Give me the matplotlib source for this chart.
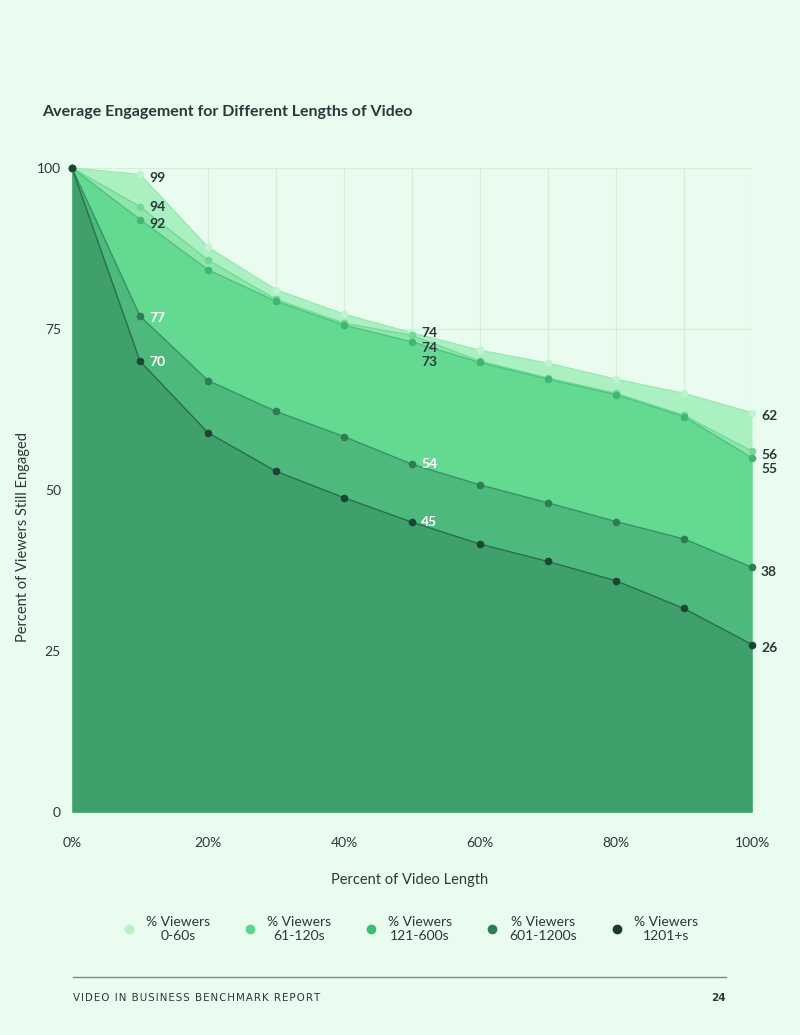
import matplotlib
matplotlib.use("Agg")
import matplotlib.pyplot as plt
from matplotlib.lines import Line2D

# ---------------- data ----------------
x_pct = [0, 10, 20, 30, 40, 50, 60, 70, 80, 90, 100]
series_names = ["% Viewers\n0-60s", "% Viewers\n61-120s", "% Viewers\n121-600s",
                "% Viewers\n601-1200s", "% Viewers\n1201+s"]
v_0_60 = [100, 99, 87.7, 81.1, 77.3, 74.4, 71.7, 69.7, 67.2, 65.0, 62]
v_61_120 = [100, 94, 85.7, 79.6, 75.9, 74, 70.0, 67.4, 65.0, 61.6, 56]
v_121_600 = [100, 92, 84.2, 79.3, 75.6, 73, 69.8, 67.2, 64.8, 61.4, 55]
v_601_1200 = [100, 77, 67.0, 62.2, 58.3, 54, 50.8, 48.0, 45.1, 42.4, 38]
v_1201 = [100, 70, 58.9, 52.9, 48.8, 45, 41.6, 38.9, 35.9, 31.6, 26]
all_series = [v_0_60, v_61_120, v_121_600, v_601_1200, v_1201]
label_idx = [1, 5, 10]
x_ticks = [0, 20, 40, 60, 80, 100]
x_tick_labels = ["0%", "20%", "40%", "60%", "80%", "100%"]
y_ticks = [0, 25, 50, 75, 100]

# ---------------- style ----------------
BG = "#e9fcef"
TXT = "#263a3a"
fill_cols = ["#aaf0c1", "#8ee6ad", "#64d992", "#4db97c", "#3fa06b"]
line_cols = ["#9ae8b4", "#74d99b", "#4cc47e", "#359463", "#2a6e4b"]
dot_cols = ["#c0f3d1", "#72d898", "#3fb773", "#2f7d55", "#1e4434"]
legend_cols = ["#b5f2c8", "#5cd68c", "#3bbf72", "#2e7d52", "#1d3a2e"]
# label pixel offsets (dy) per series, per labelled index
label_dy = {
    0: [-4, 0, -3],
    1: [0, -13, -4],
    2: [-4, -20, -11],
    3: [-2, 0, -5],
    4: [-1, 0, -3],
}
label_white = {3, 4}

plt.rcParams["font.family"] = ["Lato", "DejaVu Sans"]

fig = plt.figure(figsize=(8, 10.35), dpi=100, facecolor=BG)
ax = fig.add_axes([0.09, 1 - 812 / 1035, 0.85, (812 - 168) / 1035])
ax.set_facecolor(BG)
ax.set_xlim(0, 100)
ax.set_ylim(0, 100)

# grid
for gx in x_pct[1:]:
    ax.axvline(gx, color="#d3efdc", lw=0.8, zorder=0)
for gy in y_ticks[1:]:
    ax.axhline(gy, color="#d3efdc", lw=0.8, zorder=0)

for i, ys in enumerate(all_series):
    z = 2 + i
    ax.fill_between(x_pct, 0, ys, color=fill_cols[i], lw=0, zorder=z)
    ax.plot(x_pct, ys, color=line_cols[i], lw=1.0, zorder=z + 0.1)
for i, ys in enumerate(all_series):
    ax.plot(x_pct, ys, ls="none", marker="o", ms=4.5, mfc=dot_cols[i], mec=dot_cols[i],
            zorder=20 + i, clip_on=False)

for i, ys in enumerate(all_series):
    for k, idx in enumerate(label_idx):
        col = TXT
        if idx != 10 and i in label_white:
            col = "white"
        ax.annotate(f"{ys[idx]:.0f}", (x_pct[idx], ys[idx]), xytext=(9, label_dy[i][k]),
                    textcoords="offset pixels", ha="left", va="center", fontsize=10,
                    fontweight="bold", color=col, zorder=30, annotation_clip=False)

for s in ax.spines.values():
    s.set_visible(False)
ax.set_xticks(x_ticks)
ax.set_xticklabels(x_tick_labels)
ax.set_yticks(y_ticks)
ax.tick_params(axis="both", length=0, labelsize=10, colors=TXT)
ax.tick_params(axis="x", pad=18)
ax.tick_params(axis="y", pad=8)
ax.set_xlabel("Percent of Video Length", fontsize=10.5, color=TXT)
ax.xaxis.set_label_coords((410 - 72) / 680, -(873 - 812) / 644)
ax.set_ylabel("Percent of Viewers Still Engaged", fontsize=10.5, color=TXT)
ax.yaxis.set_label_coords(-(72 - 30) / 680, (812 - 537) / 644)

fig.text(42 / 800, 1 - 112 / 1035, "Average Engagement for Different Lengths of Video",
         fontsize=11.5, fontweight="bold", color=TXT, ha="left", va="center")

handles = [Line2D([], [], ls="none", marker="o", ms=6, mfc=c, mec=c) for c in legend_cols]
leg = fig.legend(handles, series_names, loc="center", bbox_to_anchor=(0.5125, 1 - 929 / 1035),
                 ncol=5, frameon=False, fontsize=10, handletextpad=0.7, columnspacing=2.4,
                 handlelength=1.0, labelcolor=TXT)
for t in leg.get_texts():
    t.set_multialignment("center")

fig.add_artist(Line2D([73 / 800, 726 / 800], [1 - 977 / 1035] * 2, transform=fig.transFigure,
                      color="#7c8a86", lw=1.0))
footer = "\u200a".join("VIDEO IN BUSINESS BENCHMARK REPORT")
fig.text(73 / 800, 1 - 998 / 1035, footer, fontsize=7.4,
         color=TXT, ha="left", va="center", family=["DejaVu Sans"])
fig.text(726 / 800, 1 - 998 / 1035, "24", fontsize=7.5, fontweight="bold",
         color=TXT, ha="right", va="center", family=["DejaVu Sans"])

fig.savefig("out.png", dpi=100, facecolor=BG)
